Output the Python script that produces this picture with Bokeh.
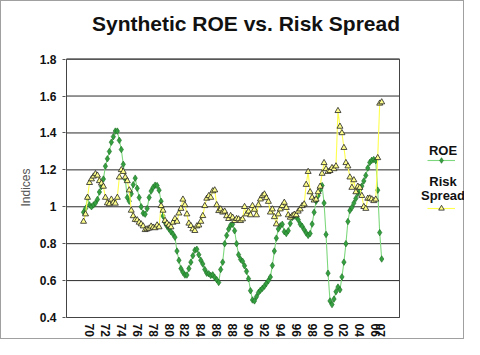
import numpy as np
from bokeh.plotting import figure
from bokeh.models import (Range1d, FixedTicker, CustomJSTickFormatter, Label, Legend,
                          LegendItem, Title)
from bokeh.embed import file_html
from bokeh.resources import INLINE

# ---- data (quarterly, first quarter = 1969 Q2) ----
start_year = 1969.25

roe = [
    0.97, 0.99, 1.05,                 # 1969
    1.01, 1.00, 1.01, 1.02,           # 1970
    1.04, 1.08, 1.11, 1.15,           # 1971
    1.22, 1.26, 1.30, 1.35,           # 1972
    1.38, 1.41, 1.41, 1.36,           # 1973
    1.31, 1.23, 1.15, 1.05,           # 1974
    1.03, 1.07, 1.12, 1.155,          # 1975
    1.10, 1.05, 1.00, 0.965,          # 1976
    0.96, 0.99, 1.05, 1.085,          # 1977
    1.105, 1.117, 1.115, 1.09,        # 1978
    1.03, 0.95, 0.915, 0.895,         # 1979
    0.88, 0.865, 0.852, 0.835,        # 1980
    0.76, 0.71, 0.665, 0.645,         # 1981
    0.63, 0.63, 0.665, 0.70,          # 1982
    0.735, 0.765, 0.77, 0.74,         # 1983
    0.71, 0.69, 0.66, 0.64,           # 1984
    0.637, 0.628, 0.631, 0.617,       # 1985
    0.605, 0.59, 0.66, 0.70,          # 1986
    0.80, 0.845, 0.879, 0.90,         # 1987
    0.905, 0.87, 0.80, 0.74,          # 1988
    0.715, 0.705, 0.68, 0.65,         # 1989
    0.61, 0.545, 0.495, 0.49,         # 1990
    0.513, 0.535, 0.548, 0.558,       # 1991
    0.57, 0.585, 0.60, 0.619,         # 1992
    0.682, 0.76, 0.83, 0.88,          # 1993
    0.897, 0.905, 0.865, 0.855,       # 1994
    0.87, 0.91, 0.942, 0.95,          # 1995
    0.946, 0.93, 0.906, 0.894,        # 1996
    0.876, 0.858, 0.845, 0.855,       # 1997
    0.906, 0.97, 1.03, 1.06,          # 1998
    1.09, 1.115, 1.02, 0.85,          # 1999
    0.64, 0.49, 0.47, 0.50,           # 2000
    0.54, 0.565, 0.55, 0.62,          # 2001
    0.70, 0.80, 0.92, 0.98,           # 2002
    0.996, 1.02, 1.045, 1.072,        # 2003
    1.092, 1.112, 1.14, 1.17,         # 2004
    1.21, 1.24, 1.252, 1.256,         # 2005
    1.25, 1.09, 0.86, 0.717,          # 2006
]

risk_spread = [
    0.92, 0.96, 1.05,                 # 1969
    1.13, 1.15, 1.165, 1.178,         # 1970
    1.17, 1.14, 1.127, 1.11,          # 1971
    1.05, 1.02, 1.015, 1.04,          # 1972
    1.023, 1.018, 1.05, 1.16,         # 1973
    1.20, 1.19, 1.16, 1.14,           # 1974
    1.09, 0.98, 0.95, 0.93,           # 1975
    0.928, 0.915, 0.906, 0.895,       # 1976
    0.875, 0.879, 0.883, 0.894,       # 1977
    0.888, 0.885, 0.90, 0.89,         # 1978
    1.005, 0.98, 0.925, 0.91,         # 1979
    0.90, 0.89, 0.915, 0.935,         # 1980
    0.92, 0.965, 0.99, 1.04,          # 1981
    1.01, 0.96, 0.91, 0.897,          # 1982
    0.879, 0.87, 0.895, 0.90,         # 1983
    0.92, 0.951, 1.005, 1.045,        # 1984
    1.059, 1.05, 1.085, 1.09,         # 1985
    1.01, 0.978, 0.987, 0.97,         # 1986
    0.975, 0.95, 0.935, 0.951,        # 1987
    0.942, 0.924, 0.935, 0.933,       # 1988
    0.924, 0.933, 1.00, 0.96,         # 1989
    0.975, 0.955, 1.005, 0.985,       # 1990
    0.955, 1.01, 1.041, 1.059,        # 1991
    1.068, 1.048, 1.028, 0.97,        # 1992
    0.987, 0.945, 0.906, 0.96,        # 1993
    0.987, 1.005, 1.023, 0.995,       # 1994
    0.955, 0.942, 0.951, 0.958,       # 1995
    0.955, 0.975, 0.987, 1.005,       # 1996
    1.014, 1.12, 1.19, 1.08,          # 1997
    1.05, 1.035, 1.04, 1.08,          # 1998
    1.11, 1.18, 1.238, 1.205,         # 1999
    1.19, 1.195, 1.211, 1.205,        # 2000
    1.22, 1.52, 1.435, 1.40,          # 2001
    1.32, 1.238, 1.22, 1.16,          # 2002
    1.104, 1.145, 1.08, 1.11,         # 2003
    1.104, 1.06, 1.00, 0.99,          # 2004
    1.045, 1.046, 1.041, 1.032,       # 2005
    1.04, 1.265, 1.56, 1.567,         # 2006
]

tick_years = [1970, 1972, 1974, 1976, 1978, 1980, 1982, 1984, 1986, 1988,
              1990, 1992, 1994, 1996, 1998, 2000, 2002, 2004, 2006, 2006.6]
tick_labels = ["70", "72", "74", "76", "78", "80", "82", "84", "86", "88",
               "90", "92", "94", "96", "98", "00", "02", "04", "06", "07"]
y_ticks = [0.4, 0.6, 0.8, 1.0, 1.2, 1.4, 1.6, 1.8]

title_text = "Synthetic ROE vs. Risk Spread"
y_title = "Indices"
legend_lines = ["ROE", "Risk", "Spread"]

quarters = start_year + 0.25 * np.arange(len(roe))

# ---- layout constants ----
FONT = "Liberation Sans"
W, H = 464, 339
FL, FB = 65, 320                  # frame left / bottom (px); frame spans to right & top edge
PX_YEAR = 7.951                   # px per year
PX_UNIT = 260 / 1.4               # px per index unit
X0_PX = 89                        # px of 1970
plot_x = (1970 - (X0_PX - 66) / PX_YEAR, 1970 + (399 - X0_PX) / PX_YEAR)   # plot-area x bounds
plot_y = (0.4, 1.8)
x_rng = Range1d(1970 - (X0_PX - FL) / PX_YEAR, 1970 + (W - X0_PX) / PX_YEAR)
y_rng = Range1d(0.4 - (FB - 319) / PX_UNIT, 0.4 + 319 / PX_UNIT)

p = figure(width=W, height=H, output_backend="svg", toolbar_location=None,
           x_range=x_rng, y_range=y_rng,
           min_border_left=FL, min_border_right=0, min_border_top=0,
           min_border_bottom=H - FB)
p.outline_line_color = None
p.background_fill_alpha = 0
p.border_fill_alpha = 0
p.styles = {"background-color": "white",
            "box-shadow": "inset 0 0 0 1px #a0a0a0"}
p.xgrid.visible = False
p.ygrid.visible = False

# horizontal grid lines across the plot area only
p.segment(x0=[plot_x[0]] * len(y_ticks), x1=[plot_x[1]] * len(y_ticks),
          y0=y_ticks, y1=y_ticks, line_color="#2b2b2b", line_width=1)
# plot-area border
p.quad(left=[plot_x[0]], right=[plot_x[1]], bottom=[plot_y[0]], top=[plot_y[1]],
       fill_alpha=0, line_color="#444444", line_width=1)

# y axis
p.yaxis.ticker = FixedTicker(ticks=y_ticks)
p.yaxis.formatter = CustomJSTickFormatter(code=r"""return tick.toFixed(1).replace(/\.0$/, "");""")
p.yaxis.major_label_text_font = FONT
p.yaxis.major_label_text_font_style = "bold"
p.yaxis.major_label_text_font_size = "12px"
p.yaxis.major_label_text_color = "#111111"
p.yaxis.major_tick_out = 3
p.yaxis.major_tick_in = 0
p.yaxis.minor_tick_out = 0
p.yaxis.minor_tick_in = 0
p.yaxis.major_label_standoff = 6
p.yaxis.axis_line_color = None
p.yaxis.major_tick_line_color = "#555555"

# y-axis title, centred on the plot area along the left side
p.add_layout(Title(text=y_title, align="left", offset=112, standoff=8,
                   text_font=FONT, text_font_style="normal", text_font_size="12px",
                   text_color="#555555"), "left")

# x axis
p.xaxis.bounds = plot_x
p.xaxis.ticker = FixedTicker(ticks=tick_years)
p.xaxis.major_label_overrides = dict(zip(tick_years, tick_labels))
p.xaxis.major_label_orientation = "vertical"
p.xaxis.major_label_text_font = FONT
p.xaxis.major_label_text_font_style = "bold"
p.xaxis.major_label_text_font_size = "12px"
p.xaxis.major_label_text_color = "#111111"
p.xaxis.major_tick_out = 0
p.xaxis.major_tick_in = 0
p.xaxis.minor_tick_out = 0
p.xaxis.minor_tick_in = 0
p.xaxis.major_label_standoff = 5
p.xaxis.axis_line_color = None

# series
roe_line = p.line(quarters, roe, line_color="#7DD87D", line_width=1.1)
roe_pts = p.scatter(quarters, roe, marker="diamond", size=6.5,
                    fill_color="#35A040", line_color="#1B6B22", line_width=0.6)
risk_line = p.line(quarters, risk_spread, line_color="#FFFF4D", line_width=1.1)
risk_pts = p.scatter(quarters, risk_spread, marker="triangle", size=6,
                     fill_color="#FFFF8C", line_color="#222222", line_width=0.8)

# legend glyph samples (texts placed above each sample)
GLYPH_H, SPACING = 14, 34
legend_h = 2 * GLYPH_H + SPACING
legend = Legend(items=[LegendItem(label=" ", renderers=[roe_line, roe_pts]),
                       LegendItem(label=" ", renderers=[risk_line, risk_pts])],
                location=(427 - FL, FB - 154.7 - legend_h), orientation="vertical",
                glyph_width=28, glyph_height=GLYPH_H, spacing=SPACING, padding=0, margin=0,
                label_standoff=0, label_width=0, label_height=0,
                label_text_font_size="1px",
                border_line_alpha=0, background_fill_alpha=0)
p.add_layout(legend, "center")

for txt, base_y in zip(legend_lines, [151.7, 182.7, 196.5]):
    p.add_layout(Label(x=442.5 - FL, y=FB - base_y, x_units="screen", y_units="screen",
                       text=txt, text_align="center", text_baseline="alphabetic",
                       text_font=FONT, text_font_style="bold",
                       text_font_size="13px", text_color="#111111"))

# title
p.add_layout(Label(x=245.5 - FL, y=FB - 24.5, x_units="screen", y_units="screen",
                   text=title_text, text_align="center", text_baseline="alphabetic",
                   text_font=FONT, text_font_style="bold",
                   text_font_size="21px", text_color="#111111"))

open("out.html", "w").write(file_html(p, INLINE))
